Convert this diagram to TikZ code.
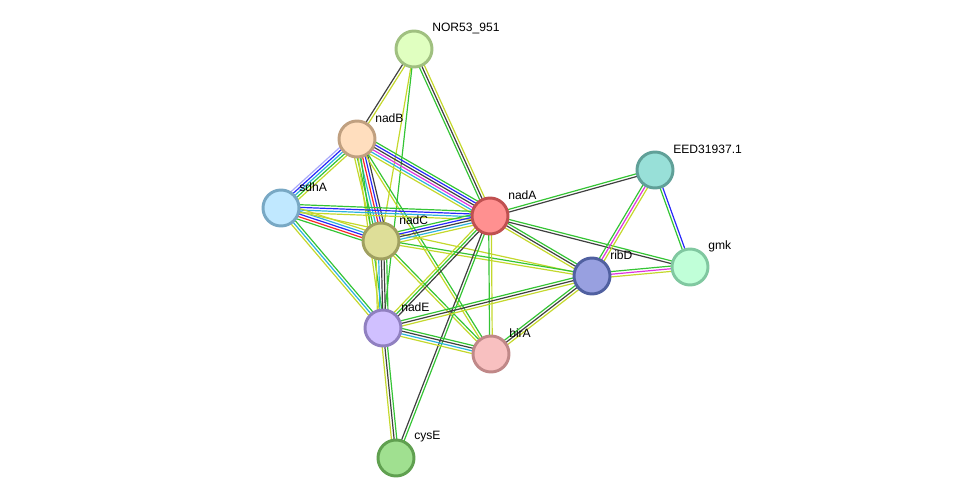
\documentclass[tikz,border=0pt]{standalone}
\usepackage{fontspec}
\setmainfont{Liberation Sans}
\usetikzlibrary{calc,backgrounds}
% evidence colours
\definecolor{eg}{RGB}{52,196,52}
\definecolor{ey}{RGB}{196,216,44}
\definecolor{ek}{RGB}{64,64,64}
\definecolor{eb}{RGB}{40,40,250}
\definecolor{em}{RGB}{222,52,222}
\definecolor{ec}{RGB}{44,178,222}
\definecolor{er}{RGB}{250,40,40}
\definecolor{el}{RGB}{170,170,250}
% protein colours (border, fill)
\definecolor{norD}{RGB}{160,192,128}\definecolor{norF}{RGB}{224,255,192}
\definecolor{nadBD}{RGB}{192,160,128}\definecolor{nadBF}{RGB}{255,222,190}
\definecolor{sdhAD}{RGB}{120,168,196}\definecolor{sdhAF}{RGB}{192,232,255}
\definecolor{nadCD}{RGB}{160,160,96}\definecolor{nadCF}{RGB}{222,222,152}
\definecolor{nadAD}{RGB}{192,80,80}\definecolor{nadAF}{RGB}{255,144,144}
\definecolor{eedD}{RGB}{96,160,152}\definecolor{eedF}{RGB}{152,224,216}
\definecolor{gmkD}{RGB}{128,200,160}\definecolor{gmkF}{RGB}{192,255,216}
\definecolor{ribDD}{RGB}{80,96,160}\definecolor{ribDF}{RGB}{152,160,224}
\definecolor{nadED}{RGB}{144,128,192}\definecolor{nadEF}{RGB}{208,192,255}
\definecolor{birAD}{RGB}{192,136,136}\definecolor{birAF}{RGB}{248,192,192}
\definecolor{cysED}{RGB}{96,160,80}\definecolor{cysEF}{RGB}{160,224,144}
\tikzset{
  prot/.style={circle, draw=#1D, fill=#1F, line width=2.1pt, minimum size=0.9cm, inner sep=0pt},
  lbl/.style={anchor=west, inner sep=0pt, font=\fontsize{8.6}{10}\selectfont},
  ln/.style={line width=0.85pt},
}
% first colour on the left of a -> b
\newcommand\lnk[3]{%
  \foreach \col [count=\k] in {#3} {\xdef\nlines{\k}}%
  \foreach \col [count=\k] in {#3} {%
    \pgfmathsetmacro\off{((\nlines-1)/2-\k+1)*1.9}%
    \draw[ln,\col] ($(#1.center)!\off pt!90:(#2.center)$) -- ($(#2.center)!\off pt!-90:(#1.center)$);
  }%
}
\begin{document}
\begin{tikzpicture}[x=0.025cm,y=-0.025cm]
		\useasboundingbox (0,0) rectangle (975,504);
		% proteins
		\node[prot=nor] (nor) at (414,49) {};
		\node[prot=nadB] (nadB) at (357,139) {};
		\node[prot=sdhA] (sdhA) at (281,208) {};
		\node[prot=nadC] (nadC) at (381,241) {};
		\node[prot=nadA] (nadA) at (490,216) {};
		\node[prot=eed] (eed) at (655,170) {};
		\node[prot=gmk] (gmk) at (690,267) {};
		\node[prot=ribD] (ribD) at (592,276) {};
		\node[prot=nadE] (nadE) at (383,328) {};
		\node[prot=birA] (birA) at (491,354) {};
		\node[prot=cysE] (cysE) at (396,458) {};
		% names
		\node[lbl] (nor-l) at ($(nor)+(18,-21)$) {NOR53\_951};
		\node[lbl] (nadB-l) at ($(nadB)+(18,-21)$) {nadB};
		\node[lbl] (sdhA-l) at ($(sdhA)+(18,-21)$) {sdhA};
		\node[lbl] (nadC-l) at ($(nadC)+(18,-21)$) {nadC};
		\node[lbl] (nadA-l) at ($(nadA)+(18,-21)$) {nadA};
		\node[lbl] (eed-l) at ($(eed)+(18,-21)$) {EED31937.1};
		\node[lbl] (gmk-l) at ($(gmk)+(18,-21)$) {gmk};
		\node[lbl] (ribD-l) at ($(ribD)+(18,-21)$) {ribD};
		\node[lbl] (nadE-l) at ($(nadE)+(18,-21)$) {nadE};
		\node[lbl] (birA-l) at ($(birA)+(18,-21)$) {birA};
		\node[lbl] (cysE-l) at ($(cysE)+(18,-21)$) {cysE};
		% interactions
		\begin{pgfonlayer}{background}
		\lnk{nor}{nadB}{ey,ek}
		\lnk{nor}{nadC}{ey}
		\lnk{nor}{nadE}{eg}
		\lnk{nor}{nadA}{ey,ek,eg}
		\lnk{nadB}{sdhA}{ey,eg,ec,eb,el}
		\lnk{nadB}{nadA}{eg,eb,ek,em,ec,ey}
		\lnk{nadB}{nadC}{ek,eb,er,ec,eg,ey}
		\lnk{nadB}{nadE}{eg,ey}
		\lnk{nadB}{birA}{eg,ey}
		\lnk{sdhA}{nadA}{eg,eb,ec,ey}
		\lnk{sdhA}{nadC}{ey,ec,eb,er,eg}
		\lnk{sdhA}{nadE}{eg,ec,ey}
		\lnk{sdhA}{ribD}{ey}
		\lnk{nadC}{nadA}{eg,eb,ek,ec,ey}
		\lnk{nadC}{nadE}{eg,ek,ek,ec,ey}
		\lnk{nadC}{birA}{eg,ey}
		\lnk{nadC}{ribD}{eg,ey}
		\lnk{nadA}{eed}{eg,ek}
		\lnk{nadA}{gmk}{eg,ek}
		\lnk{nadA}{ribD}{eg,ek,ey}
		\lnk{nadA}{nadE}{ek,eg,ey}
		\lnk{nadA}{birA}{ey,eg}
		\lnk{nadA}{cysE}{eg,ek}
		\lnk{eed}{ribD}{ey,em,eg}
		\lnk{eed}{gmk}{eb,eg}
		\lnk{ribD}{gmk}{eg,em,ey}
		\lnk{ribD}{nadE}{ey,ek,eg}
		\lnk{ribD}{birA}{ey,ek,eg}
		\lnk{nadE}{birA}{eg,ek,ec,ey}
		\lnk{nadE}{cysE}{eg,ek,ey}
		\end{pgfonlayer}
	\end{tikzpicture}
\end{document}
